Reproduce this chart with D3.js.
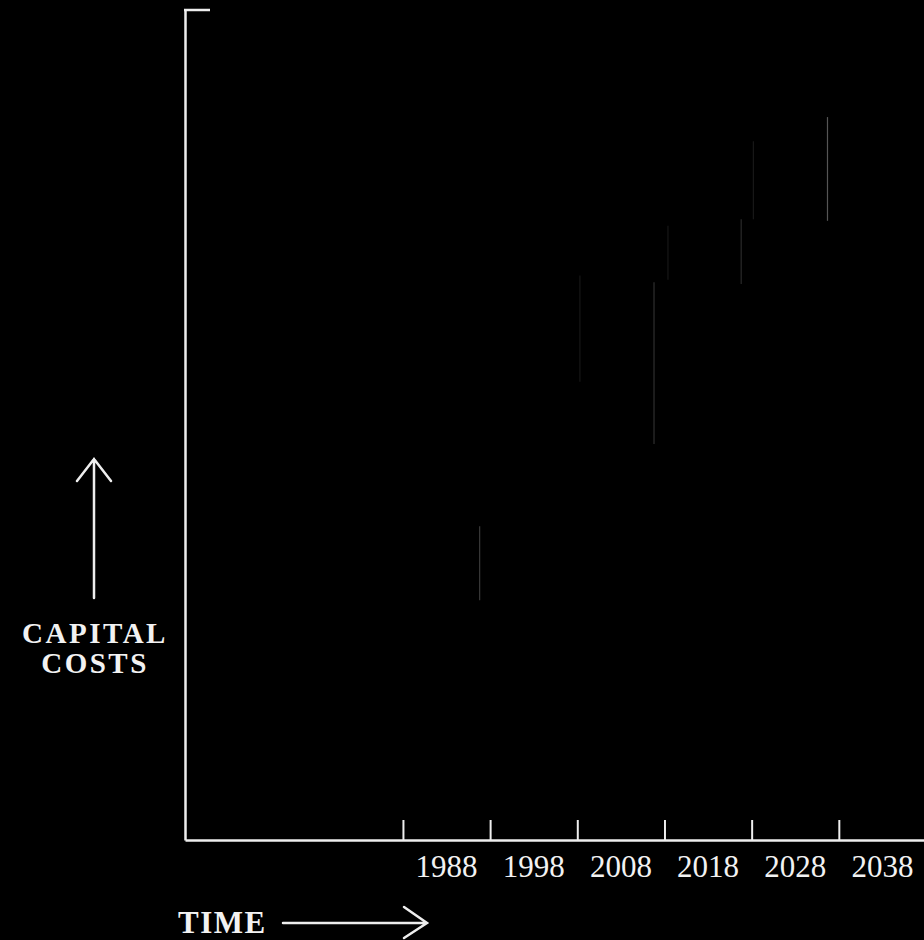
<!DOCTYPE html>
<html>
<head>
<meta charset="utf-8">
<script src="https://cdn.jsdelivr.net/npm/d3@7"></script>
<style>
  html, body { margin: 0; padding: 0; background: #000; }
  svg { display: block; }
  .lbl { fill: #f2f2f2; font-family: "Liberation Serif", "DejaVu Serif", serif; }
</style>
</head>
<body>
<svg id="chart"></svg>
<script>
// tick years sit on the decade boundaries, labels in between
let tickYears = [1983, 1993, 2003, 2013, 2023, 2033];
let labelYears = [1988, 1998, 2008, 2018, 2028, 2038];

// faint leftover edges visible in the picture (year, low cost, high cost)
let edgeYears = [1991.8, 2003.3, 2011.8, 2013.4, 2021.8, 2023.2, 2031.7];
let edgeLow = [28.9, 55.2, 47.7, 67.5, 67.0, 74.8, 74.6];
let edgeHigh = [37.8, 68.0, 67.2, 74.0, 74.8, 84.2, 87.1];
let edgeShade = ['#3a3a3a', '#161616', '#2e2e2e', '#161616', '#2a2a2a', '#181818', '#555'];

const w = 924, h = 940;
const ink = '#eeeeee';

let svg = d3.select('#chart')
    .attr('width', w)
    .attr('height', h);

let xScale = d3.scaleLinear()
    .domain([1958, 2043])
    .range([185, 926]);

let yScale = d3.scaleLinear()
    .domain([0, 100])
    .range([840, 10]);

//faint edges
let edges = edgeYears.map((d, i) => ({ year: d, lo: edgeLow[i], hi: edgeHigh[i], c: edgeShade[i] }));
svg.selectAll('.edge')
    .data(edges)
    .enter()
    .append('line')
    .attr('class', 'edge')
    .attr('x1', d => xScale(d.year))
    .attr('x2', d => xScale(d.year))
    .attr('y1', d => yScale(d.lo))
    .attr('y2', d => yScale(d.hi))
    .attr('stroke', d => d.c)
    .attr('stroke-width', 1.2);

//x-axis
let xAxis = d3.axisBottom(xScale)
    .tickValues(tickYears)
    .tickSize(-20)
    .tickSizeOuter(0)
    .tickFormat('');

let gx = svg.append('g')
    .attr('transform', 'translate(0, ' + yScale(0) + ')')
    .call(xAxis);
gx.select('.domain').attr('stroke', ink).attr('stroke-width', 2.5);
gx.selectAll('.tick line').attr('stroke', ink).attr('stroke-width', 2);

//x labels between ticks
svg.selectAll('.year')
    .data(labelYears)
    .enter()
    .append('text')
    .attr('class', 'lbl year')
    .attr('x', d => xScale(d))
    .attr('y', 877)
    .attr('text-anchor', 'middle')
    .style('font-size', '31px')
    .text(d => d);

//y-axis
let yAxis = d3.axisLeft(yScale)
    .tickValues([])
    .tickSizeOuter(0);

let gy = svg.append('g')
    .attr('transform', 'translate(' + xScale(1958) + ', 0)')
    .call(yAxis);
gy.select('.domain').attr('stroke', ink).attr('stroke-width', 2.5);

// small cap at the top of the y-axis
svg.append('line')
    .attr('x1', xScale(1958) - 1)
    .attr('x2', xScale(1958) + 25)
    .attr('y1', yScale(100))
    .attr('y2', yScale(100))
    .attr('stroke', ink)
    .attr('stroke-width', 2.5);

//y-axis title with arrow
let arrowStyle = g => g.attr('stroke', ink).attr('stroke-width', 2.5)
    .attr('fill', 'none').attr('stroke-linecap', 'round');

svg.append('path')
    .attr('d', 'M94,598 L94,459 M77,481 L94,459 L111,481')
    .call(arrowStyle);

svg.append('text')
    .attr('class', 'lbl')
    .attr('x', 95)
    .attr('y', 643)
    .attr('text-anchor', 'middle')
    .style('font-size', '29px')
    .style('font-weight', 'bold')
    .style('letter-spacing', '2.5px')
    .text('CAPITAL');

svg.append('text')
    .attr('class', 'lbl')
    .attr('x', 95)
    .attr('y', 673)
    .attr('text-anchor', 'middle')
    .style('font-size', '29px')
    .style('font-weight', 'bold')
    .style('letter-spacing', '2.5px')
    .text('COSTS');

//x-axis title with arrow
svg.append('text')
    .attr('class', 'lbl')
    .attr('x', 178)
    .attr('y', 933)
    .style('font-size', '31px')
    .style('font-weight', 'bold')
    .style('letter-spacing', '1.5px')
    .text('TIME');

svg.append('path')
    .attr('d', 'M283,923 L427,923 M404,907 L427,923 L404,938')
    .call(arrowStyle);
</script>
</body>
</html>
